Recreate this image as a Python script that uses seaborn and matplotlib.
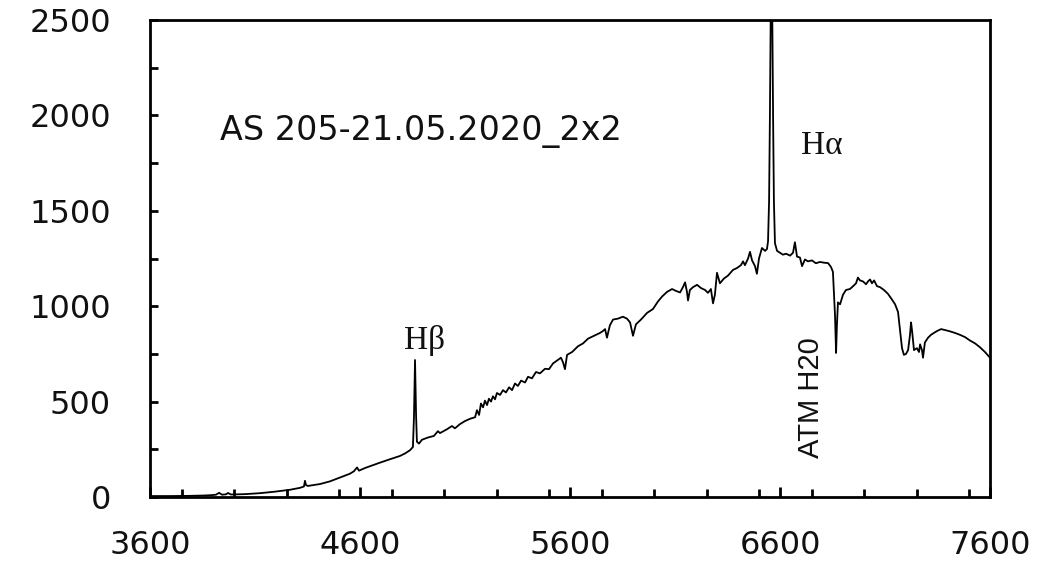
import matplotlib
matplotlib.use("Agg")
import matplotlib.pyplot as plt
import seaborn as sns
import pandas as pd
from matplotlib.ticker import MultipleLocator

# ---- data ----
wavelength = [3600, 3695, 3790, 3862, 3895, 3914, 3929, 3943, 3962, 3971, 3986, 4052, 4124, 4195,
              4267, 4314, 4333, 4338, 4343, 4352, 4410, 4457, 4495, 4529, 4552, 4571, 4586, 4595,
              4624, 4657, 4695, 4743, 4790, 4814, 4838, 4852, 4857, 4862, 4867, 4871, 4881, 4895,
              4924, 4952, 4971, 4981, 5014, 5038, 5052, 5076, 5100, 5124, 5148, 5157, 5167, 5176,
              5186, 5195, 5205, 5214, 5224, 5233, 5243, 5252, 5267, 5281, 5295, 5310, 5324, 5338,
              5352, 5367, 5386, 5400, 5419, 5438, 5457, 5481, 5500, 5519, 5538, 5557, 5567, 5576,
              5586, 5610, 5638, 5662, 5686, 5714, 5743, 5757, 5767, 5776, 5790, 5805, 5829, 5852,
              5871, 5886, 5900, 5914, 5938, 5967, 5995, 6019, 6038, 6062, 6086, 6105, 6124, 6138,
              6148, 6157, 6162, 6171, 6186, 6205, 6224, 6243, 6257, 6271, 6281, 6290, 6300, 6314,
              6333, 6352, 6376, 6395, 6414, 6424, 6433, 6448, 6457, 6467, 6481, 6490, 6500, 6514,
              6529, 6538, 6543, 6548, 6552, 6557, 6562, 6567, 6571, 6576, 6586, 6600, 6614, 6629,
              6648, 6662, 6671, 6681, 6695, 6705, 6719, 6733, 6752, 6771, 6790, 6810, 6829, 6843,
              6852, 6862, 6867, 6871, 6876, 6886, 6900, 6914, 6933, 6948, 6962, 6971, 6981, 6995,
              7010, 7019, 7029, 7038, 7048, 7062, 7076, 7095, 7114, 7133, 7148, 7162, 7171, 7181,
              7190, 7200, 7210, 7219, 7224, 7229, 7238, 7252, 7262, 7267, 7276, 7281, 7290, 7305,
              7319, 7333, 7348, 7367, 7386, 7410, 7433, 7457, 7481, 7505, 7529, 7552, 7576, 7600]
flux = [5, 5, 6, 8, 10, 12, 22, 12, 14, 21, 13, 15, 20, 28,
        38, 48, 55, 85, 62, 58, 68, 82, 98, 112, 122, 135, 155, 138,
        152, 165, 180, 198, 215, 228, 245, 262, 420, 718, 430, 290, 280, 300,
        312, 320, 345, 335, 355, 372, 360, 382, 398, 410, 418, 455, 430, 490,
        470, 505, 482, 515, 500, 528, 512, 545, 535, 560, 548, 575, 560, 595,
        582, 610, 600, 630, 622, 655, 648, 672, 670, 700, 715, 730, 705, 670,
        745, 760, 790, 805, 830, 845, 860, 870, 880, 835, 900, 930, 935, 945,
        935, 915, 845, 905, 930, 965, 985, 1025, 1050, 1075, 1090, 1080, 1072, 1100,
        1125, 1075, 1030, 1085, 1100, 1112, 1095, 1085, 1070, 1090, 1015, 1060, 1175, 1120,
        1145, 1160, 1190, 1200, 1215, 1235, 1215, 1250, 1285, 1240, 1210, 1170, 1250, 1305,
        1290, 1300, 1340, 1550, 2000, 2700, 2700, 2000, 1550, 1330, 1290, 1280, 1270, 1275,
        1265, 1280, 1335, 1260, 1255, 1210, 1245, 1235, 1240, 1225, 1232, 1228, 1226, 1205,
        1180, 950, 755, 900, 1020, 1010, 1060, 1085, 1090, 1105, 1120, 1150, 1135, 1130,
        1115, 1130, 1140, 1120, 1135, 1105, 1100, 1085, 1065, 1035, 1010, 970, 880, 780,
        745, 750, 770, 850, 915, 870, 770, 780, 760, 800, 770, 730, 810, 835,
        850, 860, 870, 880, 875, 868, 860, 850, 838, 820, 805, 785, 760, 730]

x_major = [3600, 4600, 5600, 6600, 7600]
y_major = [0, 500, 1000, 1500, 2000, 2500]
title_text = "AS 205-21.05.2020_2x2"

df = pd.DataFrame({"wavelength": wavelength, "flux": flux})

sns.set_style("white")
plt.rcParams['font.family'] = ['DejaVu Sans']

fig = plt.figure(figsize=(10.64, 5.62), dpi=100)
ax = fig.add_axes([150/1064, 1 - 497/562, 840/1064, 477/562])

sns.lineplot(data=df, x="wavelength", y="flux", ax=ax, color="black",
             linewidth=1.3, estimator=None, sort=False)

ax.set_xlim(3600, 7600)
ax.set_ylim(0, 2500)
ax.set_xticks(x_major)
ax.set_yticks(y_major)
ax.xaxis.set_minor_locator(MultipleLocator(250))
ax.yaxis.set_minor_locator(MultipleLocator(250))
ax.set_xlabel("")
ax.set_ylabel("")

for s in ax.spines.values():
    s.set_visible(True)
    s.set_color("black")
    s.set_linewidth(2.0)

ax.tick_params(axis="both", which="both", direction="in", color="black", width=2.0,
               bottom=True, left=True, top=False, right=False, labelcolor="#111111")
ax.tick_params(axis="x", which="major", length=7.5, pad=24, labelsize=23)
ax.tick_params(axis="x", which="minor", length=5.5)
ax.tick_params(axis="y", which="major", length=6, pad=28, labelsize=23)
ax.tick_params(axis="y", which="minor", length=6)

ax.text(3933, 1918, title_text, fontsize=24, color="#111111", va="center", ha="left")
ax.text(4905, 818, "H\u03b2", fontsize=24, family=["Liberation Serif", "DejaVu Serif"],
        ha="center", va="center", color="#111111")
ax.text(6800, 1840, "H\u03b1", fontsize=24, family=["Liberation Serif", "DejaVu Serif"],
        ha="center", va="center", color="#111111")
ax.text(6748, 519, "ATM H20", fontsize=21, family=["Liberation Sans", "DejaVu Sans"],
        rotation=90, ha="center", va="center", color="#111111")

fig.savefig("out.png", dpi=100, facecolor="white")
